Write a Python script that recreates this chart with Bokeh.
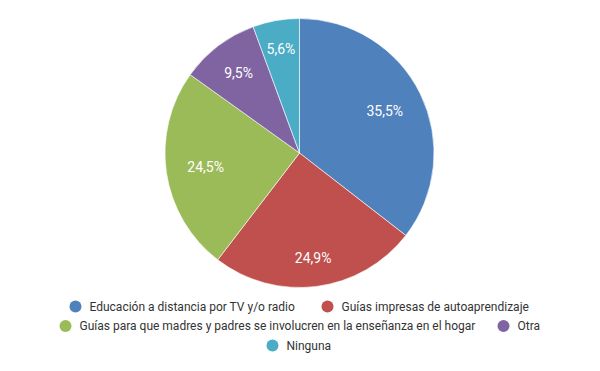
import math
from bokeh.plotting import figure
from bokeh.models import Range1d, ColumnDataSource
from bokeh.core.properties import value
from bokeh.embed import file_html
from bokeh.resources import INLINE

# ---- data ----
categories = [
    "Educación a distancia por TV y/o radio",
    "Guías impresas de autoaprendizaje",
    "Guías para que madres y padres se involucren en la enseñanza en el hogar",
    "Otra",
    "Ninguna",
]
values = [35.5, 24.9, 24.5, 9.5, 5.6]
labels = ["35,5%", "24,9%", "24,5%", "9,5%", "5,6%"]
colors = ["#4F81BD", "#C0504D", "#9BBB59", "#8064A2", "#4BACC6"]

# ---- layout (picture pixel coords converted to data) ----
W, H = 584, 355
def Y(py):
    return H - py

cx, cy = 299, Y(152.5)
R = 134.5
R_OUT = 114  # outer extent of label boxes

p = figure(width=W, height=H, output_backend="svg", toolbar_location=None,
           x_range=Range1d(0, W), y_range=Range1d(0, H),
           min_border=0, tools="")
p.axis.visible = False
p.grid.visible = False
p.outline_line_color = None
p.background_fill_color = "white"

total = sum(values)
starts, ends = [], []
cum = 0.0
for v in values:
    starts.append(math.pi / 2 - cum / total * 2 * math.pi)
    cum += v
    ends.append(math.pi / 2 - cum / total * 2 * math.pi)

src = ColumnDataSource(dict(start=starts, end=ends, color=colors, cat=categories))
p.wedge(x=cx, y=cy, radius=R, start_angle="start", end_angle="end",
        direction="clock", fill_color="color", line_color="white",
        line_width=0.6, source=src)

# label positions
lx, ly = [], []
cum = 0.0
for v, lab in zip(values, labels):
    mid = (cum + v / 2) / total * 2 * math.pi
    cum += v
    s, c = math.sin(mid), math.cos(mid)
    w = 7.4 * len(lab)
    h = 11
    ext = w / 2 * abs(s) + h / 2 * abs(c)
    d = R_OUT - ext
    lx.append(cx + d * s)
    ly.append(cy + d * c)

p.text(x=lx, y=ly, text=labels, text_color="white", text_font=value("Roboto"),
       text_font_size="14px", text_align="center", text_baseline="middle")

# legend (manual, 3 rows centred)
leg_marker_x = [75, 327, 65, 503, 272]
leg_y = [Y(306), Y(306), Y(325.5), Y(325.5), Y(345)]
p.scatter(x=leg_marker_x, y=leg_y, marker="circle", size=12,
          fill_color=colors, line_color=None)
p.text(x=[x + 14 for x in leg_marker_x], y=leg_y, text=categories,
       text_color="#333333", text_font=value("Roboto"), text_font_size="12px",
       text_align="left", text_baseline="middle")

open("out.html", "w").write(file_html(p, INLINE))
